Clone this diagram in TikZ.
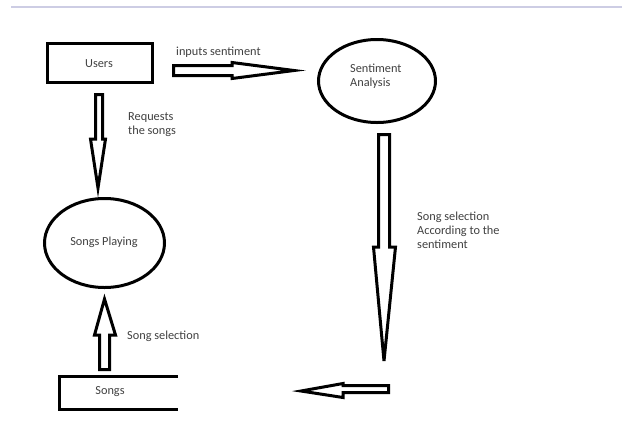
\documentclass[tikz,border=0pt]{standalone}
\usepackage{fontspec}
\setmainfont{Carlito}
\usetikzlibrary{shapes.geometric}
\definecolor{txt}{RGB}{64,64,64}
\definecolor{rule}{RGB}{205,205,228}
\begin{document}
\begin{tikzpicture}[x=1pt,y=-1pt,
  every node/.style={font=\fontsize{12.3}{14}\selectfont, text=txt},
  shapeline/.style={draw=black, line width=3pt},
  blockarrow/.style={draw=black, line width=3pt, fill=white, line join=miter},
  lbl/.style={anchor=west, align=left, inner sep=0pt}]
\useasboundingbox (0,0) rectangle (622,440);
\draw[rule, line width=2pt] (11,7) -- (622,7);

% nodes
\node[shapeline, rectangle, minimum width=105pt, minimum height=39pt, inner sep=0pt] (users) at (100,63) {};
\node at (99,64) (userstxt) {Users};
\node[shapeline, ellipse, minimum width=117pt, minimum height=83pt, inner sep=0pt] (sa) at (377,81) {};
\node[lbl] (satxt) at (350,76) {Sentiment\\Analysis};
\node[shapeline, ellipse, minimum width=120pt, minimum height=89pt, inner sep=0pt] (sp) at (104.5,243) {};
\node (sptxt) at (104,242) {Songs Playing};
\node (songs) at (110,392) {Songs};
\coordinate (sgTR) at (178,376.5);
\coordinate (sgTL) at (59.5,376.5);
\coordinate (sgBL) at (59.5,409);
\coordinate (sgBR) at (178,409);
\draw[shapeline] (sgTR) -- (sgTL) -- (sgBL) -- (sgBR);

% block arrows
\draw[blockarrow] (173.5,65.5) -- (232,65.5) -- (232,62.5) -- (294,70.5) -- (232,78.5) -- (232,75.5) -- (173.5,75.5) -- cycle;
\draw[blockarrow] (95.5,94.5) -- (102.5,94.5) -- (102.5,139) -- (105.5,139) -- (98,188) -- (90.5,139) -- (95.5,139) -- cycle;
\draw[blockarrow] (99.5,369.5) -- (109.5,369.5) -- (109.5,335) -- (115.5,335) -- (104.5,299) -- (94.5,335) -- (99.5,335) -- cycle;
\draw[blockarrow] (378.5,134.5) -- (389.5,134.5) -- (389.5,247) -- (395.5,247) -- (384,361) -- (373.5,247) -- (378.5,247) -- cycle;
\draw[blockarrow] (388.5,385.5) -- (388.5,392.5) -- (343,392.5) -- (343,397.5) -- (301,391) -- (343,383.5) -- (343,385.5) -- cycle;

% labels
\node[lbl] (l1) at (176,52) {inputs sentiment};
\node[lbl] (l2) at (128,125) {Requests\\the songs};
\node[lbl] (l3) at (127,336) {Song selection};
\node[lbl] (l4) at (417,230) {Song selection\\According to the\\sentiment};
\end{tikzpicture}
\end{document}
